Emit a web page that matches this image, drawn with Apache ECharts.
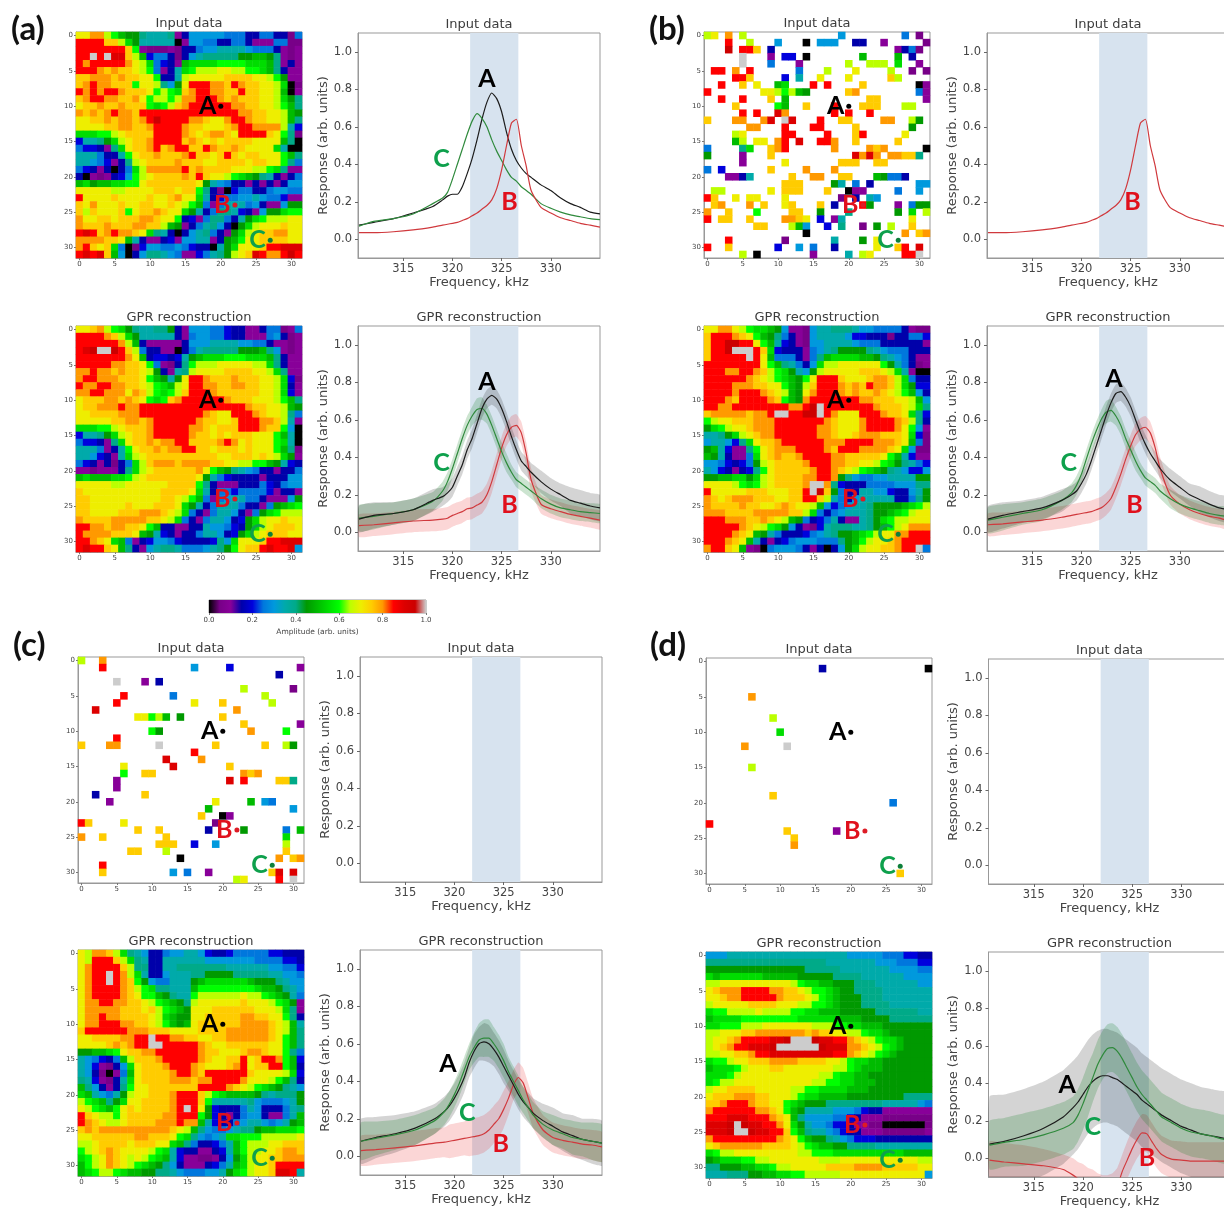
<!DOCTYPE html>
<html><head><meta charset="utf-8">
<style>html,body{margin:0;background:#fff;overflow:hidden;width:1224px;height:1209px}#c{width:1240px;height:1209px;filter:blur(.55px)}</style>
<script src="https://cdn.jsdelivr.net/npm/echarts@6/dist/echarts.min.js"></script>
</head><body><div id="c"></div>
<script>
// Cell code: 0..9,a..k = amplitude code/20 ; sparse token = column + code
const A_INPUT=[
"eeggdca9987778 23 66666555 33553315",
"hhhhffdb9 77777 02 665533 55322 25511",
"hhhhhhh f c 21112 1 33 5 6677776 5553 212",
"hhkhkiifda 45531 3678888899 aa98 212",
"hghhhhhgedb 5432 abbbbccccbbba 8 232",
"hhhgfgffedc 5237 b cdddeeddc cba8 322",
"ffgggfgffee c337 d eeeeefff feed c922",
"fghggfffcee d869 e hhhggfhg ffeedb01",
"hghghhgfffecdcb f ghhggffh ffeeda02",
"fghhggffgecddcd g ghhhgfgf ffeedb98",
"effgffgfffcbcdf g hhhhhhgg ffeedca8",
"gfgfghggfhhhhhhh hhhhhhhg gffeeda9",
"eeffgfggfghjhhhh ggfeeghh gffeeda8",
"eeeeffggffghhhhg ffeeefgh hggggd74",
"bbbccdeffffhhhhg fefggfeh hhhfec81",
"47789bdeffghhhhf gfefefff feeeea80",
"54432 8bef fghfghh ffhgffgf eeeeb700",
"77753 37ce ffgfffg hffefhfe ffeeeca8",
"77654 238d effffgf ffeeffff effeec85",
"54323035bd gggggh fgffffee eddcb822",
"30212346cd effffg fhfeedcb a9873235",
"ab9aabbcce ffffff fe976533 23232366",
"eeeeeddeee efffef fc831045 53356655",
"heeeefeeee feefge eb734556 67655422",
"fegeeefeef feefed ca525777 56322699",
"fdfeeefcef fgfeeb 97358874 32699bcc",
"geeffefffg gfeec3 42588537 9bcdddee",
"gfffgfffgg ffda92 35786309 bdeeefee",
"hihfghggfe b87303 6785329b deffggee",
"ggggffea73 223426 677239ac eeffffee",
"ghfefb5014 665565 433079be eefhhiii",
"hihifa6036 887652 245789de fihgghjh"];
const A_GPR=[
"eefgdcb9 87788932 66655433 22355125",
"hhhhgfdb 97777732 56655433 22256312",
"hhhhhhgd a3222223 66677776 65532212",
"hijkkjhf d5332203 57888889 99a86212",
"hhhhhhhg ea344347 9abbbccc bbba8322",
"hhhhhggf fec52138 cdddeeee eddb8322",
"gghggfgf fed93278 deeeefff feedb822",
"ghhgggff feca979e hhgfffgf ffeedb41",
"hgghhggf fedcbade hhggffgg ffeedb32",
"gghhggge gfdcbcdf hhhgffff ffeedb42",
"efffggfg fecbcfgh hhhhhgff feeedca8",
"effggghg ghhhhhhh hhhhhhhh gffeeda9",
"eeffffgg ghhhhhhh hhgfeehh hgfeed85",
"eeeeeffg gfghhhhh hgffeefh hhggfd72",
"bbbccdef ffghhhhh ggfefffh hhgffc60",
"47789bde ffghhhhh gffefeff feeeca70",
"54432 8be ffgfgghh ffffghge feeecb70",
"7775237c effgfggh hffefffe feeeca81",
"7764327b deffffff ffffeeff fefedb92",
"54323135 bdfgggfg gggffeed dcca9743",
"22122238 bdefffff fgeca987 65332335",
"abaaabbc deffffff fe975433 33233366",
"eeeeedde eeeeefff fc832223 33543566",
"feeeeeee eeeeffff eb735545 55542332",
"ffeeeeee eeeeffed ca525677 55322269",
"ffeeeeef eeefffeb 97357775 33259abc",
"ffeeeeff fgggfedb 53257763 259bcddd",
"gffffggg ggffedb5 32577634 9bdeefee",
"hhggfggf feca3322 33766543 9bdefffe",
"hggggfff ea974323 35776349 bdefffee",
"hhgfeba5 23466543 333486be eefhhiii",
"hihhfea8 32678875 556789ce ffhihhi6"];
const B_INPUT=[
"0d 1e 3g 5d 196 285 301",
"3h 6d 106 140 166 176 186 213 223 252 311",
"3j 5h 6h 7f 93 272 283 295 301",
"5k 92 114 124 140 22a 27a 293",
"5k 95 132 20d 23d 24d 25d 27b 302",
"1h 2h 4g 6h 135 17d 21e 26d 291 311",
"4h 5h 6f 114 137 16e 20e 26f 27d",
"2h 5f 7e 10a 11b 15h 17h 22f 300 312",
"0h 8e 9e 10d 11c 12d 13a 149 20f 21g 305 312",
"2h 5h 9f 11a 23f 24f 312",
"4f 10c 11a 14f 18h 22f 23f 24f 28d 29d",
"5h 7h 10i 11g 18h 20h 23h",
"0f 4g 5g 8g 9i 11k 12i 16h 19f 20f 25g 26g 29d 309",
"6g 7g 11h 15h 16h 21f 299",
"4d 5e 11h 12h 17h 21f 22h 28e",
"4a 5d 7e 8e 10g 11h 13i 16h 17h 18g 21f 27f",
"05 58 6b 9f 10g 11h 18g 23g 24f 25g 310",
"09 52 9f 21i 22g 23i 24g 26g 27g 28f 29f 308",
"52 11e 19f 20f 21f 24f 25f",
"05 24 9f 14g 18g",
"32 42 53 67 12f 15g 16g 19f 20f 24a 259 265 275 283",
"11f 12f 13f 189 197 215 233 306 316",
"1d 2d 9e 11f 12f 13f 17f 200 212 222 275 306",
"0h 1f 4e 6e 7e 11e 191 213 237 246",
"1f 2g 6g 8f 11e 12f 16f 183 22h 239 272 295 309 319",
"0g 3f 7c 12f 13f 169 208 279 29b 31d",
"0h 2f 3f 6f 11g 12g 13f 14e 164 182 197 29e",
"7f 8f 12d 13a 146 174 198 221 249 26d 29f",
"140 28g 30f 31g",
"3h 111 187 229 24e",
"0h 3f 104 136 155 183 24e 27f 28h 30i",
"5d 70 152 207 22d 23e 28h 29h 30k"];
const B_GPR=[
"eeggedcb ba962216 77888766 55553211",
"fhhhgfec a9853216 77776443 33133554",
"fhhjjhhe ca743216 67777655 53333332",
"fhhjkkkh fb433325 67899998 76555333",
"fhhhhhkh ea555325 8abbbbaa 98765322",
"hhhhhhhh eca87536 bddeeeee ec975312",
"hhhgghhg fdcb9769 deeeeeff fedb7200",
"hhhhhhgf edcba9ce hhhfeeef ggfdb533",
"hhhhgggf feeca9df hhhgfgfh ggfdb944",
"hhhhghhh gfeda9eg hhhgfgff gfedca63",
"hhhgfhhh hgfca9gh hhhhhhgg fffeeda6",
"hhgghhhh hhhhgghj khhhhhhh gfffedb8",
"fgggggfg ghkkhhjj khgeeehh hgffeb84",
"cdeefffg gghhhhhh hgfeeegh hhhgfd83",
"9bcdeefg gghhhhhh ggfeeegh hhhgec62",
"7789bdef gghhhhhh ggfeefgg gfffeb41",
"6776 48be ffghhhhh hggghhhh gggfea51",
"9a74228c efggghhh hgfhhhgg ggfeb611",
"a973225b efgffghh hhggffff feca7422",
"66543459 deffffgh hhggffee dcb98754",
"76432348 cefffffg hhgfedcb a9876446",
"99aabb9b deffffgg hhg98655 66777799",
"eeeedcbc deffffgk kg843335 55566688",
"heeeeeff feeeffhk jf953377 66433679",
"gfefgggf ffeeffhh fd753677 77733589",
"gffffgff eefgfeed a6456778 9999abcd",
"gggffffg ggggffdb 53567778 99abcdee",
"hhhgggff gfeda953 45732278 9bcddeee",
"hhhhhgfe dcb96321 47888778 9acdeggg",
"hhhhgfea 97533345 6789 9abc deegghhh",
"hhhgfea7 32345666 55589acd eefghhhh",
"ghhfea21 05666532 30369bde effghhk5"];
const C_INPUT=[
"0d 3g","3h 166 214 312","283","5k 92 113","23d 301","6h 135 26d","5h 16e 20f 27d","2i 22g",
"8e 9e 10c 11d 12a 149 20f","23f 312","10c 119 24g 29c","5h",
"0f 4g 5g 11k 19f 26f 29d 309","16h","12i 17g","6e 13i 21f",
"6c 9f 10f 23g 24f 25g","52 21i 23h 28f 29f 308","52","23 9f",
"42 19e 24a 266 275","18a 306","17f 200 212","0h 1f 6e 191",
"8f 11f 183 239 295 31a","0g 3f 12f 29b","11f 12f 13f 164 196 29d","7f 8f 12d 29f",
"140 28g 30f 31g","3h","3f 136 155 182 27f 28i 30i","22d 23e 28h 30k"];
const C_GPR=[
"edggfdb8 76335667 76433455 55544333",
"edhhhfdb 87337777 77666666 65555443",
"eghhhhfd 88337788 88888777 77766554",
"eghhkhgd b7336777 88999988 88877665",
"eghhkhgf c9655777 9abbbbbb a9998766",
"eghhhhgf dcb88777 accccccc cbaa9876",
"eghhhhgf ecca9877 cdddddde ddcba975",
"egghhggf fedcba98 deeeeeef eeedcb92",
"egggggff fefdcba9 eeefffff feeedb82",
"egghggff ffedba99 eefffffg gffeec83",
"egghhhgg ffedca9a effffffg gggfeda7",
"fhhhhhhg ggfffeee effffggg gggfeda8",
"eeffffgg hhkhhggf feeffggg gggfeca8",
"eeeefgfg hhkkhhhh hgfeefff fffeeca8",
"99aabcef fgghhhhh hgffeeef ggfeec85",
"76543 5ad fffghhhh hgfeeffh efhhgca4",
"76421 36b efffghhh gfeeefgh effhhca3",
"76310 25a effffghh gfhhhhhh feeeedb4",
"87421 37b effffggg fgghhhhg eeedca83",
"a8632 38c eeffffff fhhhhgfe dcba9876",
"ba765 79d eefffghh hfdcbaaa a9878889",
"dcba89be effffghh hfc77777 86555679",
"edcbacef effffghk he943335 76333578",
"hfeddcef ffffgghh hc943235 66322 57a",
"hgfeddef fffggghg ga743356 7765679a",
"fgfggggg gggggfed a8655678 89aabbbc",
"eeffffff ggfffecb 86567bbc ccddddde",
"ddeffffe fffeeba8 533457ac dddeefff",
"cdefgfee eedcb743 322347ac ddeefggf",
"bcdegfed edcba742 2112369b deeffggg",
"acdegfed cba98632 223457ab deefhhhh",
"abcddcba a9988765 556679bc deefiih7"];
const D_INPUT=[
"","163 310","","","","6g","","","9d","","10b","","5g 11k","","","6d","","","","9f","265","","","0h","11f 182","12f","12g","","","","27f",""];
const D_GPR=[
"66677777 77777777 77776666 65554433",
"88888888 88888888 87777777 66655544",
"99999999 99999988 88877777 77666655",
"babbbbbb aaaaa999 99888877 77776666",
"ddeeeeee eeeedcbb aa999888 77777766",
"efggghhh hggffedc cba99888 87777777",
"eefgghhh hhgfffed cba99988 87777777",
"deeeeeff ffeeeddc cba99988 88777777",
"bccdddde ddddccbb aaa99999 88888877",
"abbbbccc cccccbbb bbbaaa99 99888888",
"bbcccddd eeeeeeed ddccbbaa a9999999",
"ddeeeffg ggggggfg ffeeddcb ba999999",
"deefghhh hiijkkkj iihhgfed cbba9999",
"defghhii ijkkkkkk jiiiggfe dcba9999",
"ddeeffgh hiiiiiii iihhgfed cba99999",
"bccdeeff fggggfff feedcbba a9999999",
"abbbcdee effeeeee eeddcbaa a9999999",
"bbbcdeee eeeeeeee ddcbbaa9 99999999",
"bcddeeee eeeeeeed dccbbaaa 99999999",
"deeffffe eeeeddcc bbbbaaa9 99999999",
"efffgggf feeedcbb aaaa9999 99998888",
"ffghhhgf feecba99 98888888 87777765",
"ghhhhhhg gfeca977 77666543 32222222",
"hhhiiihh hgfea866 66554322 21111111",
"iiijkjii hhgeb976 65443221 10000001",
"iiijkkji ihhfca87 76543322 21111112",
"ghhhhhhh hhgfeca9 98765444 33333333",
"efgggggg ffffedcb aa998888 77777777",
"bcddeeee eeeeeddc ccbbbbbb bbbbaaaa",
"9abbbccd deeeeeee dddeeeee eeeeeedd",
"88999aab bcddeeee effffggg gfffffee",
"77788899 aabbccdd dddeeeee eeeeeee6"];

const FREQ=[310.5,312,314,316,318,319,319.5,320,320.5,321,321.5,322,322.5,323,323.5,324,324.5,325,325.5,326,326.5,327,327.5,328,329,330,331,332,333,334,335];
const BAND_KHZ=[321.8,326.7];
const XTICKS=[315,320,325,330];
const YTICKS=[0,0.2,0.4,0.6,0.8,1];
const CELL_TICKS=[0,5,10,15,20,25,30];

const A_in_A=[.075,.09,.11,.14,.175,.21,.23,.24,.24,.28,.35,.43,.53,.64,.73,.78,.75,.68,.57,.48,.42,.38,.35,.33,.29,.26,.22,.19,.17,.145,.135];
const A_in_B=[.035,.035,.04,.05,.065,.075,.08,.085,.09,.1,.11,.125,.14,.16,.18,.21,.27,.37,.5,.62,.64,.5,.39,.26,.17,.14,.115,.1,.085,.075,.065];
const A_in_C=[.07,.095,.11,.135,.19,.22,.25,.32,.4,.48,.56,.63,.67,.645,.6,.53,.47,.42,.37,.33,.31,.28,.26,.24,.19,.165,.145,.13,.12,.11,.105];
const A_gp_A=[.07,.09,.1,.12,.17,.19,.21,.24,.3,.36,.44,.5,.58,.66,.71,.73,.71,.66,.59,.51,.44,.38,.35,.32,.27,.23,.2,.17,.155,.14,.13];
const A_gp_B=[.035,.04,.05,.06,.065,.07,.075,.09,.1,.11,.125,.13,.145,.16,.2,.27,.36,.45,.52,.56,.57,.53,.42,.28,.15,.125,.11,.095,.085,.075,.065];
const A_gp_C=[.075,.085,.1,.12,.165,.22,.27,.34,.42,.5,.57,.62,.655,.66,.63,.57,.5,.43,.37,.32,.28,.26,.24,.22,.18,.15,.13,.12,.11,.105,.1];
const B_gp_A=[.07,.09,.11,.13,.17,.2,.22,.26,.31,.38,.46,.54,.62,.69,.74,.75,.72,.67,.6,.53,.47,.42,.38,.34,.28,.24,.2,.175,.15,.13,.12];
const B_gp_B=[.04,.045,.055,.065,.08,.09,.095,.1,.105,.11,.12,.13,.15,.18,.24,.31,.39,.46,.52,.55,.56,.53,.45,.34,.2,.15,.12,.1,.085,.075,.06];
const B_gp_C=[.065,.08,.1,.12,.17,.21,.25,.31,.39,.47,.54,.6,.64,.65,.62,.57,.5,.44,.38,.33,.29,.27,.25,.22,.18,.15,.13,.115,.1,.09,.085];
const C_gp_A=[.08,.1,.12,.15,.2,.24,.27,.31,.36,.42,.5,.56,.6,.61,.6,.57,.53,.48,.43,.38,.33,.29,.26,.23,.19,.16,.13,.11,.09,.08,.07];
const C_gp_B=[.03,.035,.045,.055,.07,.075,.08,.085,.09,.095,.1,.105,.11,.12,.14,.17,.2,.25,.31,.38,.42,.39,.31,.23,.14,.1,.085,.075,.065,.06,.05];
const C_gp_C=[.08,.095,.115,.14,.19,.24,.28,.33,.39,.46,.53,.58,.62,.63,.63,.6,.56,.51,.45,.4,.35,.3,.26,.22,.17,.14,.12,.1,.09,.08,.07];
const D_gp_A=[.075,.09,.12,.16,.22,.27,.3,.34,.38,.41,.43,.44,.44,.43,.42,.4,.38,.36,.34,.31,.29,.27,.25,.23,.2,.17,.15,.13,.12,.11,.1];
const D_gp_B=[-.01,-.02,-.03,-.04,-.06,-.09,-.11,-.14,-.2,-.25,-.32,-.36,-.34,-.28,-.16,-.07,-.01,.05,.1,.135,.13,.09,.05,.02,-.005,-.01,-.015,-.015,-.015,-.015,-.015];
const D_gp_C=[.07,.085,.1,.125,.16,.19,.23,.29,.36,.43,.5,.55,.585,.59,.57,.53,.48,.43,.38,.34,.31,.28,.25,.22,.19,.16,.14,.13,.12,.105,.095];

const HALF_A=[.07,.07,.06,.06,.06,.05,.05,.05,.05,.05,.05,.05,.05,.05,.05,.05,.05,.05,.05,.05,.05,.05,.05,.05,.06,.06,.06,.07,.07,.07,.07];
const HALF_B=[.06,.06,.06,.06,.06,.06,.06,.06,.06,.06,.06,.06,.06,.06,.06,.06,.06,.06,.06,.06,.06,.06,.06,.06,.05,.05,.05,.05,.05,.05,.05];
const HALF_C=[.07,.07,.06,.06,.05,.05,.05,.05,.05,.05,.05,.05,.06,.06,.05,.05,.05,.05,.05,.04,.04,.04,.04,.04,.05,.05,.05,.05,.05,.05,.05];
const C_half_A=[.12,.11,.1,.09,.08,.08,.08,.08,.08,.08,.08,.09,.09,.1,.1,.09,.09,.09,.08,.08,.08,.08,.08,.08,.09,.1,.1,.11,.11,.12,.12];
const C_half_B=[.08,.08,.08,.08,.08,.08,.09,.09,.09,.09,.1,.1,.1,.1,.1,.1,.1,.1,.09,.08,.08,.08,.08,.08,.08,.08,.08,.08,.08,.08,.08];
const C_half_C=[.1,.09,.08,.08,.07,.07,.07,.07,.07,.07,.07,.08,.09,.1,.1,.09,.09,.09,.08,.08,.08,.07,.07,.07,.07,.08,.08,.09,.09,.1,.1];
const D_half_A=[.255,.25,.25,.25,.25,.25,.25,.25,.25,.25,.25,.25,.25,.25,.25,.25,.25,.25,.25,.25,.25,.25,.25,.25,.25,.25,.25,.25,.25,.25,.25];
const D_half_B=[.1,.1,.1,.09,.08,.09,.09,.11,.15,.19,.24,.27,.25,.2,.11,.09,.1,.1,.1,.1,.1,.1,.1,.1,.1,.1,.1,.1,.1,.1,.1];
const D_half_C=[.13,.13,.14,.14,.14,.14,.14,.14,.14,.13,.13,.13,.13,.13,.13,.13,.13,.13,.13,.13,.13,.13,.13,.13,.13,.13,.13,.13,.13,.13,.13];

const POINTS={A:[20,10],B:[22,24],C:[27,29]};
const CMAP=['#000000','#780088','#880099','#0000aa','#0000dd','#0077dd','#0099dd','#00aaaa','#00aa88','#009900','#00bb00','#00dd00','#00ff00','#bbff00','#eeee00','#ffcc00','#ff9900','#ff0000','#dd0000','#cc0000','#cccccc'];
const COL={A:'#000000',B:'#e0101c',C:'#0ea04c'};
const LINE={A:'#1c1c1c',B:'#d0393d',C:'#2f8a3c'};
const FILL={A:'rgba(0,0,0,.17)',B:'rgba(235,30,30,.18)',C:'rgba(0,120,20,.2)'};
const CODES='0123456789abcdefghijk';
const FONT='"DejaVu Sans"', TXT='#444';

const grids=[],xAxes=[],yAxes=[],series=[],titles=[],hmIdx=[];
const cats=[...Array(32).keys()].map(String);
function title(text,cx,top,size){titles.push({text,left:cx,top,padding:0,textAlign:'center',textStyle:{fontFamily:FONT,fontSize:size||13,fontWeight:'normal',color:'#3c3c3c'}});}
function denseCells(rows){const d=[];rows.forEach((s,r)=>{const t=s.replace(/\s/g,'');for(let c=0;c<32;c++){const k=t[c]||t[t.length-1];d.push([c,r,CODES.indexOf(k)/20]);}});return d;}
function sparseCells(rows){const d=[];rows.forEach((s,r)=>{s.split(' ').filter(Boolean).forEach(tk=>d.push([+tk.slice(0,-1),r,CODES.indexOf(tk.slice(-1))/20]));});return d;}
function frame(l,t,w,h){const i=grids.length;grids.push({left:l,top:t,width:w,height:h,show:true,borderColor:'#999',borderWidth:1,containLabel:false,backgroundColor:'#fff'});return i;}
function heat(l,t,name,cells){
  const i=frame(l,t,226,226);
  const tick={show:true,length:2,lineStyle:{color:'#777'},alignWithLabel:true,interval:(n)=>CELL_TICKS.includes(n)};
  const lab={fontFamily:FONT,fontSize:7,color:TXT,margin:3,interval:(n)=>CELL_TICKS.includes(n)};
  xAxes.push({gridIndex:i,type:'category',data:cats,position:'bottom',axisLine:{onZero:false,lineStyle:{color:'#999'}},axisTick:tick,axisLabel:lab,splitLine:{show:false}});
  yAxes.push({gridIndex:i,type:'category',data:cats,inverse:true,position:'left',axisLine:{onZero:false,lineStyle:{color:'#999'}},axisTick:tick,axisLabel:lab,splitLine:{show:false}});
  hmIdx.push(series.length);
  series.push({type:'heatmap',xAxisIndex:i,yAxisIndex:i,data:cells,progressive:0,itemStyle:{borderWidth:0},emphasis:{disabled:true},z:1});
  ['A','B','C'].forEach(k=>{
    series.push({type:'scatter',xAxisIndex:i,yAxisIndex:i,symbolSize:5,z:3,silent:true,itemStyle:{opacity:1,color:k==='A'?'#000':k==='B'?'#dd1c26':'#0d7f3a'},
      data:[{value:POINTS[k],label:{show:true,opacity:1,position:'left',distance:2,formatter:k,fontFamily:'Lato',fontWeight:'bold',fontSize:25,color:COL[k]}}]});
  });
  title(name,l+113,t-15);
}
function band(i,mean,half,k){
  const pts=FREQ.map((x,j)=>[x,mean[j]-half[j],mean[j]+half[j]]);
  series.push({type:'custom',xAxisIndex:i,yAxisIndex:i,clip:true,silent:true,z:2,data:pts,encode:{x:0,y:[1,2]},
    renderItem:(p,api)=>{ if(p.dataIndex!==0) return null;
      const up=pts.map(q=>api.coord([q[0],q[2]])), dn=pts.map(q=>api.coord([q[0],q[1]])).reverse();
      return {type:'polygon',shape:{points:up.concat(dn),smooth:0.15},style:{fill:FILL[k]}};}});
}
function chart(l,t,name,curves,labels){
  const i=frame(l,t,242,225);
  xAxes.push({gridIndex:i,type:'value',min:310.4,max:335,name:'Frequency, kHz',nameLocation:'middle',nameGap:17,nameTextStyle:{fontFamily:FONT,fontSize:13,color:TXT},
    axisLine:{onZero:false,lineStyle:{color:'#999'}},axisTick:{length:3,lineStyle:{color:'#666'},customValues:XTICKS},axisLabel:{customValues:XTICKS,fontFamily:FONT,fontSize:11.5,color:TXT,margin:5},splitLine:{show:false}});
  yAxes.push({gridIndex:i,type:'value',min:-0.1,max:1.1,name:'Response (arb. units)',nameLocation:'middle',nameGap:24,nameTextStyle:{fontFamily:FONT,fontSize:13,color:TXT},
    axisLine:{onZero:false,lineStyle:{color:'#999'}},axisTick:{length:3,lineStyle:{color:'#666'},customValues:YTICKS},axisLabel:{customValues:YTICKS,formatter:v=>v.toFixed(1),fontFamily:FONT,fontSize:11.5,color:TXT,margin:6},splitLine:{show:false}});
  series.push({type:'line',xAxisIndex:i,yAxisIndex:i,data:[],z:1,silent:true,markArea:{silent:true,z:1,itemStyle:{color:'#d7e3ef',opacity:1},data:[[{xAxis:BAND_KHZ[0]},{xAxis:BAND_KHZ[1]}]]}});
  curves.forEach(c=>{ if(c.half) band(i,c.mean,c.half,c.k); });
  curves.forEach(c=>{
    series.push({type:'line',xAxisIndex:i,yAxisIndex:i,data:FREQ.map((x,j)=>[x,c.mean[j]]),showSymbol:false,symbol:'none',smooth:0.2,clip:true,z:3,silent:true,lineStyle:{color:LINE[c.k],width:1.2}});
  });
  (labels||[]).forEach(a=>{
    series.push({type:'scatter',xAxisIndex:i,yAxisIndex:i,symbolSize:1,z:4,silent:true,itemStyle:{color:'transparent',opacity:1},
      data:[{value:[a[1],a[2]],label:{show:true,opacity:1,position:'inside',formatter:a[0],fontFamily:'Lato',fontWeight:'bold',fontSize:25,color:COL[a[0]]}}]});
  });
  title(name,l+121,t-15);
}
const IN='Input data',GP='GPR reconstruction';
// panel (a)
heat(76,32,IN,denseCells(A_INPUT));
chart(358,33,IN,[{k:'A',mean:A_in_A},{k:'C',mean:A_in_C},{k:'B',mean:A_in_B}],[['A',323.5,.855],['B',325.8,.2],['C',318.9,.43]]);
heat(76,326,GP,denseCells(A_GPR));
chart(358,326,GP,[{k:'B',mean:A_gp_B,half:HALF_B},{k:'C',mean:A_gp_C,half:HALF_C},{k:'A',mean:A_gp_A,half:HALF_A}],[['A',323.5,.8],['B',325.8,.145],['C',318.9,.37]]);
// panel (b)
heat(704,32,IN,sparseCells(B_INPUT));
chart(987,33,IN,[{k:'B',mean:A_in_B}],[['B',325.2,.2]]);
heat(704,326,GP,denseCells(B_GPR));
chart(987,326,GP,[{k:'B',mean:B_gp_B,half:HALF_B},{k:'C',mean:B_gp_C,half:HALF_C},{k:'A',mean:B_gp_A,half:HALF_A}],[['A',323.3,.82],['B',325.4,.145],['C',318.7,.37]]);
// panel (c)
heat(78,657,IN,sparseCells(C_INPUT));
chart(360,657,IN,[],[]);
heat(78,950,GP,denseCells(C_GPR));
chart(360,950,GP,[{k:'B',mean:C_gp_B,half:C_half_B},{k:'A',mean:C_gp_A,half:C_half_A},{k:'C',mean:C_gp_C,half:C_half_C}],[['A',319.35,.49],['B',324.7,.065],['C',321.3,.23]]);
// panel (d)
heat(706,658,IN,sparseCells(D_INPUT));
chart(988.5,659,IN,[],[]);
heat(706,952,GP,denseCells(D_GPR));
chart(988.5,952,GP,[{k:'B',mean:D_gp_B,half:D_half_B},{k:'A',mean:D_gp_A,half:D_half_A},{k:'C',mean:D_gp_C,half:D_half_C}],[['A',318.4,.39],['B',326.5,0],['C',321,.165]]);

// colour bar
const cb=frame(209,600,217,13);
xAxes.push({gridIndex:cb,type:'value',min:0,max:1,interval:.2,name:'Amplitude (arb. units)',nameLocation:'middle',nameGap:15,nameTextStyle:{fontFamily:FONT,fontSize:7.5,color:TXT},axisLine:{onZero:false,show:false},axisTick:{length:2,lineStyle:{color:'#777'}},axisLabel:{formatter:v=>v.toFixed(1),fontFamily:FONT,fontSize:7,color:TXT,margin:4},splitLine:{show:false}});
yAxes.push({gridIndex:cb,type:'value',min:0,max:1,show:false,splitLine:{show:false}});
series.push({type:'custom',xAxisIndex:cb,yAxisIndex:cb,silent:true,data:[[0,0,1,1]],
  renderItem:(p,api)=>{const a=api.coord([0,1]),b=api.coord([1,0]);
    return {type:'rect',shape:{x:a[0],y:a[1],width:b[0]-a[0],height:b[1]-a[1]},style:{fill:new echarts.graphic.LinearGradient(0,0,1,0,CMAP.map((c,i)=>({offset:i/20,color:c})))}};}});

[['(a)',6,8],['(b)',644,8],['(c)',8,624],['(d)',645,624]].forEach(p=>{
  titles.push({text:p[0],left:p[1],top:p[2],textStyle:{fontFamily:'Lato',fontWeight:'bold',fontSize:33,color:'#111'}});
});

const chartObj=echarts.init(document.getElementById('c'),null,{renderer:'canvas'});
chartObj.setOption({animation:false,backgroundColor:'#fff',title:titles,grid:grids,xAxis:xAxes,yAxis:yAxes,tooltip:{show:false},
  visualMap:{type:'continuous',show:false,min:0,max:1,dimension:2,seriesIndex:hmIdx,inRange:{color:CMAP}},series});
</script></body></html>
